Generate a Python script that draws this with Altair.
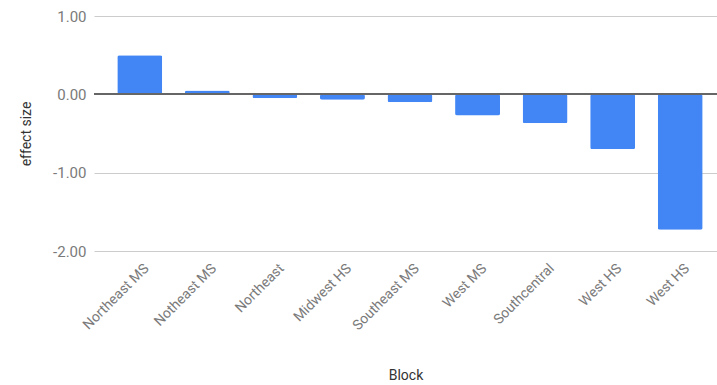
import json
import altair as alt
import pandas as pd

# Blocks in display order and their effect sizes
blocks = ["Northeast MS", "Notheast MS", "Northeast", "Midwest HS", "Southeast MS",
          "West MS", "Southcentral", "West HS", "West HS"]
effect = [0.50, 0.05, -0.05, -0.07, -0.10, -0.27, -0.37, -0.70, -1.73]

# Positional index keeps the two "West HS" bars apart; labels come from `blocks`
df = pd.DataFrame({"idx": list(range(len(blocks))), "block": blocks, "effect": effect})
label_expr = json.dumps(blocks) + "[datum.value]"

FONT = "Roboto"
BAR = "#4285F4"

x = alt.X(
    "idx:O",
    title="Block",
    sort=None,
    scale=alt.Scale(paddingInner=0.334, paddingOuter=0.278, align=0.62),
    axis=alt.Axis(
        labelExpr=label_expr,
        labelAngle=-45,
        labelAlign="right",
        labelBaseline="top",
        labelFont=FONT,
        labelFontSize=14,
        labelColor="#7a7a7a",
        labelPadding=10,
        labelOffset=2,
        domain=False,
        ticks=False,
        titleFont=FONT,
        titleFontSize=14,
        titleFontWeight="normal",
        titleColor="#333333",
        titlePadding=36,
    ),
)

y = alt.Y(
    "effect:Q",
    title="effect size",
    scale=alt.Scale(domain=[-2, 1], nice=False),
    axis=alt.Axis(
        values=[-2, -1, 0, 1],
        format=".2f",
        # plain hyphen-minus instead of the typographic minus sign
        labelExpr="replace(datum.label, '\u2212', '-')",
        labelFont=FONT,
        labelFontSize=15,
        labelColor="#7a7a7a",
        labelPadding=8,
        domain=False,
        ticks=False,
        gridColor="#cccccc",
        gridWidth=1,
        titleFont=FONT,
        titleFontSize=14,
        titleFontWeight="normal",
        titleColor="#333333",
        titlePadding=19,
    ),
)

bars = alt.Chart(df).mark_bar(color=BAR, cornerRadius=2).encode(
    x=x, y=y, tooltip=["block", "effect"]
)

zero = alt.Chart(df).mark_rule(color="#666666", strokeWidth=1.5).encode(
    y=alt.datum(0)
)

chart = (
    alt.layer(bars, zero)
    .properties(
        width=623,
        height=235,
        padding={"left": 94, "top": 16, "right": 0, "bottom": 134},
        autosize=alt.AutoSizeParams(type="none"),
        background="white",
    )
    .configure_view(stroke=None)
)

chart.save("out.html", embed_options={"renderer": "svg", "actions": False})
